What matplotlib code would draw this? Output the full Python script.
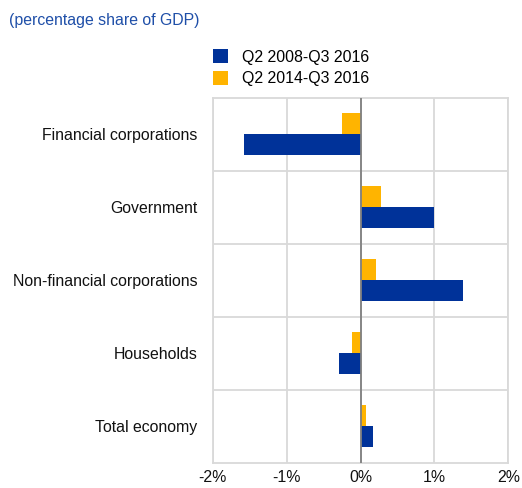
import matplotlib.pyplot as plt
import numpy as np
from matplotlib.patches import Patch

categories = ["Financial corporations", "Government", "Non-financial corporations",
              "Households", "Total economy"]
series_names = ["Q2 2008-Q3 2016", "Q2 2014-Q3 2016"]
long_period = [-1.58, 1.00, 1.38, -0.29, 0.17]
short_period = [-0.25, 0.28, 0.21, -0.11, 0.07]
xticks = [-2, -1, 0, 1, 2]

BLUE = "#003299"
YELLOW = "#FFB400"
GRID = "#d9d9d9"
FS = 11.4

plt.rcParams["font.family"] = ["Liberation Sans", "DejaVu Sans"]

fig = plt.figure(figsize=(5.22, 4.88), dpi=100)
fig.patch.set_facecolor("white")
ax = fig.add_axes([0.4075, 0.0518, 0.5663, 0.7484])

y = np.arange(len(categories))
h = 0.29
ax.barh(y - h / 2, short_period, height=h, color=YELLOW, zorder=3)
ax.barh(y + h / 2, long_period, height=h, color=BLUE, zorder=3)

ax.set_xlim(-2, 2)
ax.set_ylim(len(categories) - 0.5, -0.5)
ax.set_xticks(xticks)
ax.set_xticklabels([f"{t}%" for t in xticks], fontsize=FS, color="#111111")
ax.set_yticks(y)
ax.set_yticklabels(categories, fontsize=FS, color="#111111")
ax.set_yticks(np.arange(0.5, len(categories) - 0.5, 1), minor=True)
ax.tick_params(axis="both", which="both", length=0)
ax.tick_params(axis="y", pad=11)
ax.tick_params(axis="x", pad=5)

ax.grid(axis="x", which="major", color=GRID, lw=1.3, zorder=0)
ax.grid(axis="y", which="minor", color=GRID, lw=1.3, zorder=0)
ax.axvline(0, color="#808080", lw=1.3, zorder=4)
for s in ax.spines.values():
    s.set_color(GRID)
    s.set_linewidth(1.3)

fig.text(9 / 522, 1 - 21 / 488, "(percentage share of GDP)", fontsize=FS,
         color="#1f4fa8", ha="left", va="center")

handles = [Patch(facecolor=BLUE, edgecolor="none"), Patch(facecolor=YELLOW, edgecolor="none")]
fig.legend(handles, series_names, loc="upper left", bbox_to_anchor=(207 / 522, 1 - 43 / 488),
           frameon=False, fontsize=FS, handlelength=0.95, handleheight=0.95,
           handletextpad=0.85, labelspacing=0.4, borderaxespad=0)

fig.savefig("out.png", dpi=100, facecolor=fig.get_facecolor())
